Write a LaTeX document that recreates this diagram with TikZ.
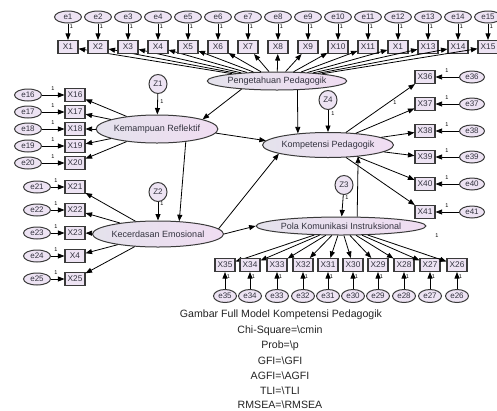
\documentclass[tikz,border=0pt]{standalone}
\usepackage{fontspec}
\setmainfont{Liberation Sans}
\usetikzlibrary{shapes.geometric,arrows.meta}
\definecolor{nodefill}{HTML}{EDE3F3}
\definecolor{latl}{HTML}{E4E2EC}
\definecolor{latr}{HTML}{F0DDF2}
\definecolor{edgec}{HTML}{3A3A3A}
\definecolor{txt}{HTML}{33333F}
\definecolor{captc}{HTML}{222222}
\begin{document}
\begin{tikzpicture}[x=1pt,y=-1pt,
  lat/.style={ellipse,draw=edgec,line width=1pt,left color=latl,right color=latr,inner sep=0pt,font=\fontsize{9}{10}\selectfont,text=txt},
  err/.style={ellipse,draw=edgec,line width=1pt,fill=nodefill,minimum width=27pt,minimum height=12pt,inner sep=0pt,font=\fontsize{8}{9}\selectfont,text=txt},
  errb/.style={err,minimum width=23pt,minimum height=13pt},
  zz/.style={ellipse,draw=edgec,line width=1pt,fill=nodefill,minimum width=18pt,minimum height=19pt,inner sep=0pt,font=\fontsize{8}{9}\selectfont,text=txt},
  obs/.style={rectangle,draw=edgec,line width=1.1pt,fill=nodefill,minimum width=20pt,minimum height=13pt,inner sep=1.2pt,font=\fontsize{8.3}{9}\selectfont,text=txt},
  arr/.style={-{Triangle[length=6.5pt,width=5pt]},line width=0.8pt,black},
  one/.style={font=\fontsize{5.5}{6}\selectfont,inner sep=0pt,text=black},
  capt/.style={font=\fontsize{10.6}{12}\selectfont,text=captc,inner sep=0pt}
]
\useasboundingbox (0,0) rectangle (497,410);

% latent variables
\node[lat,minimum width=108pt,minimum height=18pt] (pp) at (277,81) {Pengetahuan Pedagogik};
\node[lat,minimum width=96pt,minimum height=28pt] (kr) at (157,129) {Kemampuan Reflektif};
\node[lat,minimum width=110pt,minimum height=26pt] (ke) at (158,234) {Kecerdasan Emosional};
\node[lat,minimum width=114pt,minimum height=25pt] (kp) at (328,145) {Kompetensi Pedagogik};
\node[lat,minimum width=138pt,minimum height=18pt] (pki) at (341,226) {Pola Komunikasi Instruksional};

% disturbances
\node[zz] (z1) at (158,84) {Z1};
\node[zz] (z4) at (328,100) {Z4};
\node[zz] (z2) at (158,192) {Z2};
\node[zz] (z3) at (344,185) {Z3};

% top indicators
\foreach \i/\lab in {1/X1,2/X2,3/X3,4/X4,5/X5,6/X6,7/X7,8/X8,9/X9,10/X10,11/X11,12/X1,13/X13,14/X14,15/X15}{
  \pgfmathsetmacro\xx{68+30*(\i-1)}
  \node[err] (e\i) at (\xx,17) {e\i};
  \node[obs] (x\i) at (\xx,47) {\lab};
  \draw[arr] (e\i) -- (x\i);
  \draw[arr] (pp) -- (x\i);
  \node[one] at (\xx+3.5,27) {1};
}

% left indicators (Kemampuan Reflektif)
\foreach \i/\yy in {16/95,17/112,18/129,19/146,20/163}{
  \node[err] (e\i) at (28,\yy) {e\i};
  \node[obs] (x\i) at (75,\yy) {X\i};
  \draw[arr] (e\i) -- (x\i);
  \draw[arr] (kr) -- (x\i);
  \node[one] at (53,\yy-6) {1};
}

% left indicators (Kecerdasan Emosional)
\foreach \i/\lab/\yy in {21/X21/187,22/X22/210,23/X23/233,24/X4/256,25/X25/279}{
  \node[err] (e\i) at (37,\yy) {e\i};
  \node[obs] (x\i) at (75,\yy) {\lab};
  \draw[arr] (e\i) -- (x\i);
  \draw[arr] (ke) -- (x\i);
  \node[one] at (56,\yy-6) {1};
}

% right indicators (Kompetensi Pedagogik)
\foreach \i/\yy in {36/77,37/104,38/131,39/157,40/184,41/212}{
  \node[err,minimum width=25pt] (e\i) at (472,\yy) {e\i};
  \node[obs] (x\i) at (425,\yy) {X\i};
  \draw[arr] (e\i) -- (x\i);
  \draw[arr] (kp) -- (x\i);
  \node[one] at (447,\yy-6) {1};
}

% bottom indicators (Pola Komunikasi Instruksional)
\foreach \i/\xx in {35/225,34/250,33/277,32/303,31/328,30/353,29/378,28/404,27/430,26/457}{
  \node[errb] (e\i) at (\xx,296) {e\i};
  \node[obs] (x\i) at (\xx,265) {X\i};
  \draw[arr] (e\i) -- (x\i);
  \draw[arr] (pki) -- (x\i);
  \node[one] at (\xx+3.5,277) {1};
}

% disturbance arrows
\draw[arr] (z1) -- (kr);
\draw[arr] (z4) -- (kp);
\draw[arr] (z2) -- (ke);
\draw[arr] (z3) -- (pki);
\node[one] at (162,102) {1};
\node[one] at (333,114) {1};
\node[one] at (162,204) {1};
\node[one] at (347,198) {1};

% structural paths
\draw[arr] (pp.193) -- (kr.12);
\draw[arr] (pp.-24) -- (kp.159);
\draw[arr] (kr.-4) -- (kp.176);
\draw[arr] (kr.-24) -- (ke.31);
\draw[arr] (ke.5) -- (kp.190);
\draw[arr] (ke.east) -- (pki.west);
\draw[arr] (pki.30) -- (kp.-21);

% fixed loadings
\node[one] at (395,103) {1};
\node[one] at (437,236) {1};

% caption
\node[capt] (c1) at (281,315) {Gambar Full Model Kompetensi Pedagogik};
\node[capt] (c2) at (280,331) {Chi-Square=\textbackslash cmin};
\node[capt] (c3) at (280,346) {Prob=\textbackslash p};
\node[capt] (c4) at (280,361) {GFI=\textbackslash GFI};
\node[capt] (c5) at (280,376) {AGFI=\textbackslash AGFI};
\node[capt] (c6) at (280,391) {TLI=\textbackslash TLI};
\node[capt] (c7) at (280,405) {RMSEA=\textbackslash RMSEA};
\end{tikzpicture}
\end{document}
